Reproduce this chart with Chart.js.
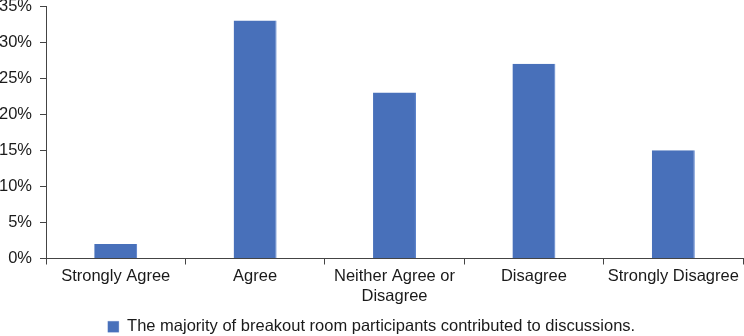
<!DOCTYPE html>
<html>
<head>
<meta charset="utf-8">
<script src="https://cdn.jsdelivr.net/npm/chart.js@4"></script>
<style>
  html, body { margin: 0; padding: 0; background: #fff; }
  #wrap { width: 744px; height: 336px; }
</style>
</head>
<body>
<div id="wrap"><canvas id="chart"></canvas></div>
<script>
"use strict";

var categories = ["Strongly Agree", "Agree", ["Neither Agree or", "Disagree"], "Disagree", "Strongly Disagree"];
var percents = [2, 33, 23, 27, 15];
var series_label = "The majority of breakout room participants contributed to discussions.";
var y_ticks = [0, 5, 10, 15, 20, 25, 30, 35];

var bar_blue = "rgb(72, 112, 186)";
var axis_grey = "#444";
var font = { family: "'Liberation Sans', Arial, sans-serif", size: 16.5, lineHeight: 1.2 };

Chart.defaults.font = font;
Chart.defaults.color = "#1a1a1a";

new Chart(document.getElementById("chart"), {
  type: "bar",
  data: {
    labels: categories,
    datasets: [{
      label: series_label,
      data: percents,
      backgroundColor: bar_blue,
      borderColor: "rgb(80, 122, 200)",
      borderWidth: { left: 0, right: 1, top: 0, bottom: 0 },
      categoryPercentage: 0.308,
      barPercentage: 1
    }]
  },
  options: {
    responsive: true,
    maintainAspectRatio: false,
    animation: false,
    // legend keeps some empty room under its text, so let it run off the bottom
    layout: { padding: { top: 6, right: 1, left: 0, bottom: -9 } },
    plugins: {
      tooltip: { enabled: false },
      legend: {
        position: "bottom",
        labels: {
          boxWidth: 11,
          boxHeight: 11,
          padding: 1,
          color: "#1a1a1a",
          font: font
        }
      }
    },
    scales: {
      x: {
        grid: {
          offset: true,
          drawOnChartArea: false,
          tickLength: 6,
          color: axis_grey
        },
        border: { color: axis_grey, width: 1 },
        ticks: { padding: 2, maxRotation: 0, autoSkip: false, font: font },
        afterFit: function(scale) { scale.height = 59; }
      },
      y: {
        min: 0,
        max: 35,
        afterBuildTicks: function(scale) {
          scale.ticks = y_ticks.map(function(v) { return { value: v }; });
        },
        grid: {
          drawOnChartArea: false,
          tickLength: 6,
          color: axis_grey
        },
        border: { color: axis_grey, width: 1 },
        ticks: {
          padding: 8,
          font: font,
          callback: function(v) { return v + "%"; }
        },
        afterFit: function(scale) {
          scale.width = 46;
          // let the top label sit against the canvas edge
          scale.paddingTop = 0;
          scale.paddingBottom = 0;
        }
      }
    }
  }
});
</script>
</body>
</html>
